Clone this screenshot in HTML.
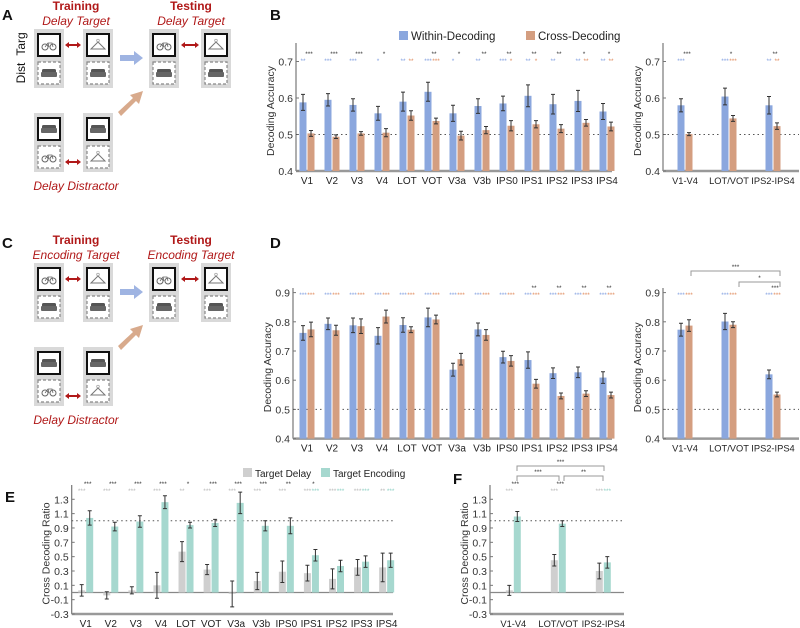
<!DOCTYPE html>
<html><head><meta charset="utf-8"><style>
html,body{margin:0;padding:0;background:#fff;}
svg{display:block;font-family:"Liberation Sans",Arial,sans-serif;}
</style></head><body>
<svg id="fig" width="800" height="628" viewBox="0 0 800 628" xmlns="http://www.w3.org/2000/svg"></svg>
<script>
// ---------- DATA ----------
const regions = ["V1","V2","V3","V4","LOT","VOT","V3a","V3b","IPS0","IPS1","IPS2","IPS3","IPS4"];
const groups = ["V1-V4","LOT/VOT","IPS2-IPS4"];
const accTicks = [0.4,0.5,0.6,0.7];
const accTicksD = [0.4,0.5,0.6,0.7,0.8,0.9];
const ratioTicks = [-0.3,-0.1,0.1,0.3,0.5,0.7,0.9,1.1,1.3];

const bWithin = [0.588,0.595,0.581,0.558,0.590,0.617,0.558,0.578,0.585,0.606,0.583,0.592,0.563];
const bWithinErr = [0.022,0.017,0.017,0.019,0.026,0.026,0.022,0.020,0.020,0.030,0.027,0.029,0.022];
const bCross = [0.503,0.494,0.503,0.505,0.552,0.537,0.497,0.512,0.524,0.528,0.516,0.532,0.522];
const bCrossErr = [0.008,0.005,0.005,0.011,0.013,0.008,0.012,0.010,0.014,0.010,0.011,0.009,0.012];
const bWithinSig = ["**","***","***","*","**","***","*","**","***","**","**","**","**"];
const bCrossSig = ["","","","","**","***","","","*","*","","**","**"];
const bDiffSig = ["***","***","***","*","","**","*","**","**","**","**","*","*"];

const bgWithin = [0.580,0.604,0.580];
const bgWithinErr = [0.018,0.023,0.024];
const bgCross = [0.501,0.544,0.523];
const bgCrossErr = [0.004,0.008,0.009];
const bgWithinSig = ["***","***","**"];
const bgCrossSig = ["","***","**"];
const bgDiffSig = ["***","*","**"];

const dWithin = [0.762,0.793,0.788,0.752,0.789,0.815,0.636,0.774,0.679,0.669,0.624,0.627,0.609];
const dWithinErr = [0.025,0.020,0.025,0.028,0.025,0.032,0.022,0.022,0.020,0.028,0.018,0.018,0.020];
const dCross = [0.774,0.771,0.785,0.818,0.773,0.808,0.672,0.755,0.666,0.588,0.546,0.554,0.549];
const dCrossErr = [0.025,0.017,0.025,0.022,0.010,0.015,0.020,0.018,0.018,0.015,0.010,0.010,0.010];
const dWithinSig = ["***","***","***","***","***","***","***","***","***","***","***","***","***"];
const dCrossSig = ["***","***","***","***","***","***","***","***","***","***","***","***","***"];
const dDiffSig = ["","","","","","","","","","**","**","**","**"];

const dgWithin = [0.773,0.801,0.620];
const dgWithinErr = [0.022,0.028,0.015];
const dgCross = [0.787,0.790,0.551];
const dgCrossErr = [0.020,0.010,0.008];
const dgWithinSig = ["***","***","***"];
const dgCrossSig = ["***","***","***"];
const dgDiffSig = ["","","***"];

const eDelay = [0.03,-0.04,0.03,0.10,0.57,0.32,-0.02,0.16,0.29,0.27,0.19,0.35,0.35];
const eDelayErr = [0.08,0.05,0.05,0.18,0.14,0.07,0.18,0.12,0.15,0.11,0.14,0.11,0.20];
const eEnc = [1.04,0.92,0.99,1.26,0.94,0.97,1.25,0.93,0.93,0.52,0.37,0.43,0.45];
const eEncErr = [0.10,0.06,0.08,0.09,0.04,0.05,0.15,0.07,0.11,0.08,0.08,0.08,0.10];
const eDelaySig = ["***","***","***","***","**","***","***","***","***","***","***","***","**"];
const eEncSig = ["","","","","","","","","","***","***","***","***"];
const eDiffSig = ["***","***","***","***","*","***","***","***","**","*","","",""];

const fDelay = [0.03,0.45,0.30];
const fDelayErr = [0.07,0.08,0.11];
const fEnc = [1.06,0.96,0.42];
const fEncErr = [0.07,0.04,0.08];
const fDelaySig = ["***","***","***"];
const fEncSig = ["","","***"];
const fDiffSig = ["***","***",""];

// ---------- DRAWING ----------
const NS = "http://www.w3.org/2000/svg";
const svg = document.getElementById("fig");
function el(tag, attrs, parent, txt){
  const e = document.createElementNS(NS, tag);
  for (const k in attrs) e.setAttribute(k, attrs[k]);
  if (txt !== undefined) e.textContent = txt;
  (parent || svg).appendChild(e);
  return e;
}
const BLUE="#8ba7de", ORANGE="#d49e80", GRAY="#cfcfcf", TEAL="#a6d8cf";
const BLUE_T="#7f9ee0", ORANGE_T="#e08a5c", GRAY_T="#b8b8b8", TEAL_T="#8ed0c4";

function chart(o){
  const g = el("g", {});
  
  
  const y = v => o.y0 - (v - o.vmin) * o.k;
  const x = i => o.x0 + i * o.step;
  const ax = el("line", {x1:o.ax, y1:o.top, x2:o.ax, y2:o.bottom, stroke:"#777", "stroke-width":1.2}, g);
  
  
  const bx = el("line", {x1:o.ax, y1:o.bottom, x2:o.right, y2:o.bottom, stroke:"#999", "stroke-width":2.5}, g);
  
  
  if (o.zeroLine){
    const z = el("line", {x1:o.ax, y1:y(0), x2:o.right, y2:y(0), stroke:"#888", "stroke-width":1.2}, g);
    
    
  }
  o.ticks.forEach(t => {
    el("line", {x1:o.ax, y1:y(t), x2:o.ax+3, y2:y(t), stroke:"#777"}, g);
    const tl = el("text", {x:o.ax-3, y:y(t)+4, "font-size":10.5, fill:"#333", "text-anchor":"end"}, g, o.tickFmt(t));
    
    
  });
  const yl = el("text", {x:0, y:0, "font-size":10.5, fill:"#333", "text-anchor":"middle",
    transform:`translate(${o.ax-22},${(o.top+o.bottom)/2+4}) rotate(-90)`}, g, o.ylabel);
  
  
  const rl = el("line", {x1:o.ax, y1:y(o.ref), x2:o.right, y2:y(o.ref), stroke:"#555", "stroke-width":1, "stroke-dasharray":"1.5,3"}, g);
  
  
  o.cats.forEach((c, i) => {
    const cl = el("text", {x:x(i), y:o.bottom+13, "font-size":o.catFs || 10, fill:"#222", "text-anchor":"middle"}, g, c);
    
    
    [[o.s1, o.e1, o.c1, -4, o.sig1, o.t1], [o.s2, o.e2, o.c2, 4, o.sig2, o.t2]].forEach(([s, e, col, off, sig, tc]) => {
      const cx = x(i) + off;
      const base = o.zeroLine ? y(0) : o.bottom;
      const top = y(s[i]);
      const r = el("rect", {x:cx-3.5, y:Math.min(top, base), width:7, height:Math.abs(base-top), fill:col}, g);
      
      
      const eb = el("path", {d:`M${cx},${y(s[i]+e[i])}V${y(s[i]-e[i])}M${cx-2},${y(s[i]+e[i])}H${cx+2}M${cx-2},${y(s[i]-e[i])}H${cx+2}`, stroke:"#333", "stroke-width":1, fill:"none"}, g);
      
      
      if (sig[i]) {
        const st = el("text", {x:cx, y:o.sigY+3, "font-size":6.5, fill:tc, "text-anchor":"middle"}, g, sig[i]);
        
        
      }
    });
    if (o.sigD[i]) {
      const st = el("text", {x:x(i)+2, y:o.sigY-4, "font-size":6.5, fill:"#333", "text-anchor":"middle"}, g, o.sigD[i]);
      
      
    }
  });
}
const f1 = t => t.toFixed(1);

chart({name:"chart-b", cats:regions, x0:307, step:25, ax:296, right:612, top:43, bottom:171, y0:171, vmin:0.4, k:365,
  ticks:accTicks, tickFmt:f1, ylabel:"Decoding Accuracy", ref:0.5, s1:bWithin, e1:bWithinErr, s2:bCross, e2:bCrossErr,
  c1:BLUE, c2:ORANGE, t1:BLUE_T, t2:ORANGE_T, sig1:bWithinSig, sig2:bCrossSig, sigD:bDiffSig, sigY:60});
chart({name:"chart-b-grouped", cats:groups, catFs:9.3, x0:685, step:44, ax:663, right:799, top:43, bottom:171, y0:171, vmin:0.4, k:365,
  ticks:accTicks, tickFmt:f1, ylabel:"Decoding Accuracy", ref:0.5, s1:bgWithin, e1:bgWithinErr, s2:bgCross, e2:bgCrossErr,
  c1:BLUE, c2:ORANGE, t1:BLUE_T, t2:ORANGE_T, sig1:bgWithinSig, sig2:bgCrossSig, sigD:bgDiffSig, sigY:60});
chart({name:"chart-d", cats:regions, x0:307, step:25, ax:293, right:612, top:288, bottom:438.6, y0:438.6, vmin:0.4, k:292,
  ticks:accTicksD, tickFmt:f1, ylabel:"Decoding Accuracy", ref:0.5, s1:dWithin, e1:dWithinErr, s2:dCross, e2:dCrossErr,
  c1:BLUE, c2:ORANGE, t1:BLUE_T, t2:ORANGE_T, sig1:dWithinSig, sig2:dCrossSig, sigD:dDiffSig, sigY:294});
chart({name:"chart-d-grouped", cats:groups, catFs:9.3, x0:685, step:44, ax:663, right:799, top:288, bottom:438.6, y0:438.6, vmin:0.4, k:292,
  ticks:accTicksD, tickFmt:f1, ylabel:"Decoding Accuracy", ref:0.5, s1:dgWithin, e1:dgWithinErr, s2:dgCross, e2:dgCrossErr,
  c1:BLUE, c2:ORANGE, t1:BLUE_T, t2:ORANGE_T, sig1:dgWithinSig, sig2:dgCrossSig, sigD:dgDiffSig, sigY:294});
chart({name:"chart-e", cats:regions, x0:85.7, step:25.08, ax:71.7, right:393, top:485, bottom:614, y0:592.5, vmin:0, k:71.7,
  ticks:ratioTicks, tickFmt:f1, ylabel:"Cross Decoding Ratio", ref:1.0, zeroLine:true, s1:eDelay, e1:eDelayErr, s2:eEnc, e2:eEncErr,
  c1:GRAY, c2:TEAL, t1:GRAY_T, t2:TEAL_T, sig1:eDelaySig, sig2:eEncSig, sigD:eDiffSig, sigY:490});
chart({name:"chart-f", cats:groups, catFs:9.3, x0:513.3, step:45, ax:490, right:624, top:485, bottom:614, y0:592.5, vmin:0, k:71.7,
  ticks:ratioTicks, tickFmt:f1, ylabel:"Cross Decoding Ratio", ref:1.0, zeroLine:true, s1:fDelay, e1:fDelayErr, s2:fEnc, e2:fEncErr,
  c1:GRAY, c2:TEAL, t1:GRAY_T, t2:TEAL_T, sig1:fDelaySig, sig2:fEncSig, sigD:fDiffSig, sigY:490});

function bracket(x1, x2, yy, label){
  const p = el("path", {d:`M${x1},${yy+5}V${yy}H${x2}V${yy+5}`, stroke:"#999", fill:"none", "stroke-width":1});
  
  
  const t = el("text", {x:(x1+x2)/2, y:yy-2, "font-size":6.5, fill:"#333", "text-anchor":"middle"}, null, label);
  
  
}
bracket(691, 780, 271, "***");
bracket(739, 780, 282, "*");
bracket(517, 604, 466, "***");
bracket(517, 559, 476, "***");
bracket(564, 603, 476, "**");

function legend(x, yy, col, label, fs){
  const r = el("rect", {x:x, y:yy-5, width:9, height:9, fill:col});
  
  
  const t = el("text", {x:x+12, y:yy+4, "font-size":fs, fill:"#222"}, null, label);
  
  
}
legend(399, 36, BLUE, "Within-Decoding", 11.5);
legend(526, 36, ORANGE, "Cross-Decoding", 11.5);
legend(243, 473, GRAY, "Target Delay", 10);
legend(321, 473, TEAL, "Target Encoding", 10);

[["A",2,20],["B",270,20],["C",2,248],["D",270,248],["E",5,502],["F",453,484]].forEach(([l,x,yy]) => {
  const t = el("text", {x:x, y:yy, "font-size":15, "font-weight":"bold", fill:"#111"}, null, l);
  
  
});

// ---------- schematics ----------
function bike(x, yy, g){
  el("circle", {cx:x-4, cy:yy+2, r:3, fill:"none", stroke:"#666", "stroke-width":1}, g);
  el("circle", {cx:x+4, cy:yy+2, r:3, fill:"none", stroke:"#666", "stroke-width":1}, g);
  el("path", {d:`M${x-4},${yy+2}L${x-1},${yy-2}H${x+3}L${x+4},${yy+2}M${x-1},${yy-2}L${x},${yy+2}`, stroke:"#666", fill:"none", "stroke-width":0.8}, g);
}
function hanger(x, yy, g){
  el("path", {d:`M${x-7},${yy+4}L${x},${yy-3}L${x+7},${yy+4}Z`, stroke:"#777", fill:"none", "stroke-width":1}, g);
  el("circle", {cx:x, cy:yy-4.5, r:1.3, fill:"none", stroke:"#999", "stroke-width":0.7}, g);
}
function couch(x, yy, g){
  el("rect", {x:x-7, y:yy-4, width:14, height:8, rx:1.5, fill:"#555"}, g);
  el("rect", {x:x-8, y:yy-1, width:16, height:5, rx:1, fill:"#666"}, g);
}
function card(x, yy, topIcon, botIcon){
  const g = el("g", {});
  
  
  el("rect", {x:x, y:yy, width:30, height:59, fill:"#d9d9d9"}, g);
  el("rect", {x:x+4, y:yy+5, width:22, height:22, fill:"#fff", stroke:"#111", "stroke-width":2}, g);
  el("rect", {x:x+4, y:yy+33, width:22, height:22, fill:"#fff", stroke:"#888", "stroke-width":1.2, "stroke-dasharray":"3,2"}, g);
  topIcon(x+15, yy+16, g); botIcon(x+15, yy+44, g);
}
function dblArrow(x1, x2, yy){
  const p = el("path", {d:`M${x1},${yy}L${x1+4},${yy-3}V${yy-1}H${x2-4}V${yy-3}L${x2},${yy}L${x2-4},${yy+3}V${yy+1}H${x1+4}V${yy+3}Z`, fill:"#b01818"});
  
  
}
function schematic(dy, cond){
  const red = "#b01818";
  [["Training",76,"training-title"],["Testing",191,"testing-title"]].forEach(([t,x,n]) => {
    const e = el("text", {x:x, y:dy+10, "font-size":12, "font-weight":"bold", fill:red, "text-anchor":"middle"}, null, t);
    
    
  });
  [[76],[191]].forEach(([x]) => {
    const e = el("text", {x:x, y:dy+25, "font-size":12, "font-style":"italic", fill:red, "text-anchor":"middle"}, null, cond);
    
    
  });
  card(34, dy+29, bike, couch); card(83, dy+29, hanger, couch);
  card(149, dy+29, bike, couch); card(201, dy+29, hanger, couch);
  card(34, dy+113, couch, bike); card(83, dy+113, couch, hanger);
  dblArrow(65, 81, dy+45); dblArrow(181, 199, dy+45); dblArrow(65, 81, dy+162);
  const ba = el("path", {d:`M120,${dy+55}H134V${dy+51}L143,${dy+58}L134,${dy+65}V${dy+61}H120Z`, fill:"#9fb4e2"});
  
  
  const ta = el("path", {d:`M118,${dy+112}L133,${dy+98}L130,${dy+95}L143,${dy+91}L139,${dy+104}L136,${dy+101}L121,${dy+116}Z`, fill:"#d8aa8c"});
  
  
  const dl = el("text", {x:76, y:dy+190, "font-size":12, "font-style":"italic", fill:red, "text-anchor":"middle"}, null, "Delay Distractor");
  
  
}
schematic(0, "Delay Target");
schematic(234, "Encoding Target");
const tg = el("text", {x:0, y:0, "font-size":12, fill:"#111", "text-anchor":"middle", transform:"translate(25,44) rotate(-90)"}, null, "Targ");


const ds = el("text", {x:0, y:0, "font-size":12, fill:"#111", "text-anchor":"middle", transform:"translate(25,73) rotate(-90)"}, null, "Dist");


</script>
</body></html>
